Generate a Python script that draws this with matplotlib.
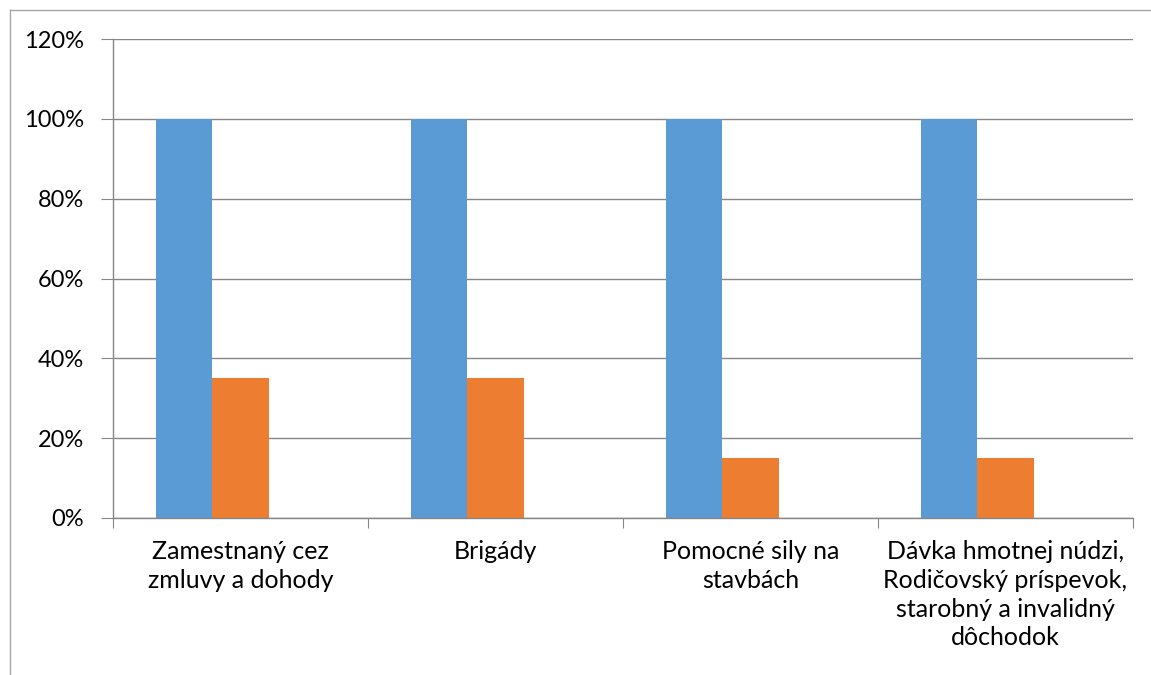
import matplotlib.pyplot as plt
import matplotlib as mp
import numpy as np
from matplotlib.lines import Line2D
from matplotlib.ticker import FuncFormatter

mp.rcParams['font.family'] = ['Lato', 'DejaVu Sans']

categories = ['Zamestnaný cez\nzmluvy a dohody', 'Brigády',
              'Pomocné sily na\nstavbách',
              'Dávka hmotnej núdzi,\nRodičovský príspevok,\nstarobný a invalidný\ndôchodok']
serie1 = [1.00, 1.00, 1.00, 1.00]
serie2 = [0.35, 0.35, 0.15, 0.15]
serie3 = [0, 0, 0, 0]

grey = '#868686'
fig = plt.figure(figsize=(11.51, 6.75), dpi=100)
ax = fig.add_axes([113/1151, 1-518/675, (1133-113)/1151, (518-39)/675])

x = np.arange(len(categories))
w = 0.2216
ax.bar(x - w, serie1, w, color='#5b9bd5')
ax.bar(x, serie2, w, color='#ed7d31')
ax.bar(x + w, serie3, w, color='#a5a5a5')

ax.set_xlim(-0.5, 3.5)
ax.set_ylim(0, 1.2)
ax.set_yticks(np.arange(0, 1.21, 0.2))
ax.yaxis.set_major_formatter(FuncFormatter(lambda v, p: '%d%%' % round(v*100)))
ax.grid(axis='y', color=grey, lw=1)
ax.set_axisbelow(True)
for s in ['top', 'right']:
    ax.spines[s].set_visible(False)
for s in ['left', 'bottom']:
    ax.spines[s].set_color(grey)
    ax.spines[s].set_linewidth(1)

ax.set_xticks(np.arange(-0.5, 3.6, 1))
ax.set_xticklabels([])
ax.set_xticks(x, minor=True)
ax.set_xticklabels(categories, minor=True, fontsize=18, linespacing=1.3, va='top')
ax.tick_params(axis='x', which='major', length=7, color=grey)
ax.tick_params(axis='x', which='minor', length=0, pad=16)
ax.tick_params(axis='y', length=9, color=grey, labelsize=17, pad=12)

# chart frame
fig.add_artist(Line2D([10/1151, 10/1151], [0, 1-10/675], color='#a6a6a6', lw=1))
fig.add_artist(Line2D([10/1151, 1], [1-10/675, 1-10/675], color='#a6a6a6', lw=1))

plt.savefig('out.png')
